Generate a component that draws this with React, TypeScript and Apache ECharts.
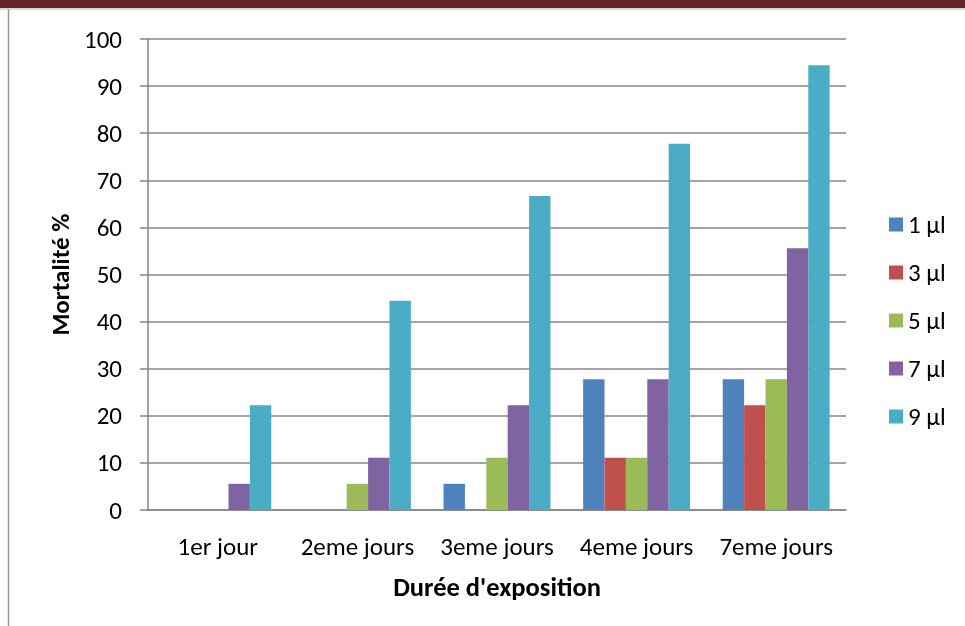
import React, { useEffect, useRef } from "react";
import * as echarts from "echarts";

const categories = ["1er jour", "2eme jours", "3eme jours", "4eme jours", "7eme jours"];
const seriesNames = ["1 µl", "3 µl", "5 µl", "7 µl", "9 µl"];
const s1 = [0, 0, 5.56, 27.78, 27.78];
const s3 = [0, 0, 0, 11.11, 22.22];
const s5 = [0, 5.56, 11.11, 11.11, 27.78];
const s7 = [5.56, 11.11, 22.22, 27.78, 55.56];
const s9 = [22.22, 44.44, 66.67, 77.78, 94.44];
const colors = ["#4F81BD", "#C0504D", "#9BBB59", "#8064A2", "#4BACC6"];
const yTicks = { min: 0, max: 100, interval: 10 };

const FONT = "Carlito, Lato, sans-serif";

export default function App() {
  const ref = useRef<HTMLDivElement>(null);
  useEffect(() => {
    if (!ref.current) return;
    const chart = echarts.init(ref.current, undefined, { renderer: "svg" });
    const data = [s1, s3, s5, s7, s9];
    chart.setOption({
      animation: false,
      textStyle: { fontFamily: FONT },
      grid: { left: 148, right: 119, top: 39, bottom: 116, containLabel: false },
      legend: {
        orient: "vertical",
        left: 889,
        top: 212,
        padding: 0,
        itemWidth: 14,
        itemHeight: 14,
        itemGap: 23,
        icon: "rect",
        textStyle: { fontSize: 25, lineHeight: 25, fontFamily: FONT, color: "#000" },
        data: seriesNames,
      },
      xAxis: {
        type: "category",
        data: categories,
        name: "Durée d'exposition",
        nameLocation: "middle",
        nameGap: 63,
        nameTextStyle: { fontSize: 26.5, fontWeight: "bold", color: "#000", fontFamily: FONT },
        axisLine: { lineStyle: { color: "#868686", width: 1.5 } },
        axisTick: { show: false },
        axisLabel: { interval: 0, fontSize: 25, color: "#000", margin: 24, fontFamily: FONT },
      },
      yAxis: {
        type: "value",
        min: yTicks.min,
        max: yTicks.max,
        interval: yTicks.interval,
        name: "Mortalité %",
        nameLocation: "middle",
        nameGap: 63,
        nameRotate: 90,
        nameTextStyle: { fontSize: 25, fontWeight: "bold", color: "#000", fontFamily: FONT },
        axisLine: { show: true, lineStyle: { color: "#868686", width: 1.5 } },
        axisTick: { show: true, length: 8, lineStyle: { color: "#868686", width: 1.5 } },
        axisLabel: { fontSize: 25, color: "#000", margin: 26, fontFamily: FONT },
        splitLine: { lineStyle: { color: "#868686", width: 1.5 } },
      },
      graphic: [
        { type: "rect", shape: { x: 0, y: 0, width: 965, height: 8 }, style: { fill: "#652526" } },
        { type: "line", shape: { x1: 0, y1: 9, x2: 965, y2: 9 }, style: { stroke: "#b0b0b0", lineWidth: 1 } },
        { type: "line", shape: { x1: 8.5, y1: 9, x2: 8.5, y2: 626 }, style: { stroke: "#999", lineWidth: 1.5 } },
      ],
      series: seriesNames.map((name, i) => ({
        name,
        type: "bar",
        data: data[i],
        barGap: "0%",
        barCategoryGap: "23.4%",
        itemStyle: { color: colors[i], borderWidth: 0 },
      })),
    });
    return () => chart.dispose();
  }, []);
  return <div ref={ref} style={{ position: "fixed", left: 0, top: 0, width: 965, height: 626 }} />;
}
